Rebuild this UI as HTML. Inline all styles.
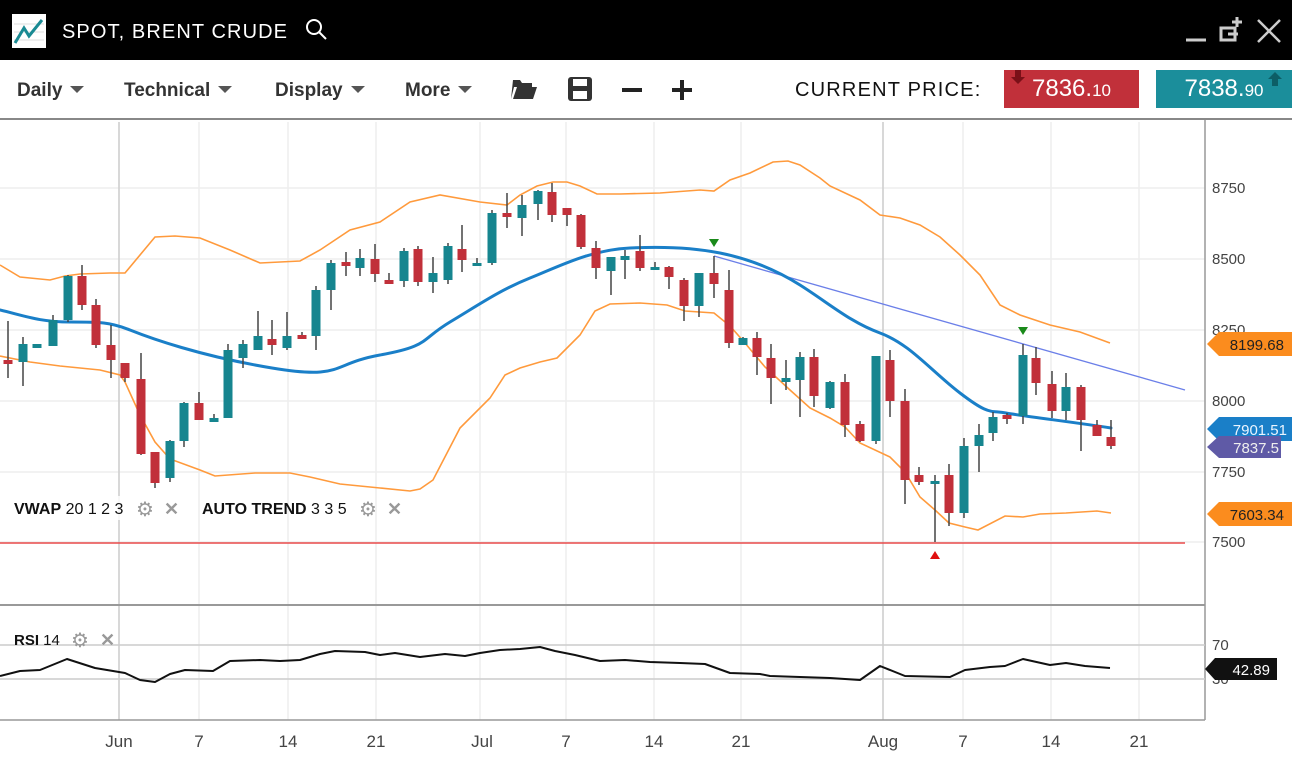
<!DOCTYPE html>
<html><head><meta charset="utf-8"><style>
body{margin:0;width:1292px;height:761px;overflow:hidden;background:#fff;font-family:"Liberation Sans",sans-serif;position:relative}
.hdr{position:absolute;left:0;top:0;width:1292px;height:60px;background:#000}
.tb{position:absolute;top:60px;left:0;width:1292px;height:60px;border-bottom:2px solid #888;box-sizing:border-box}
.mi{position:absolute;top:80px;font-size:19px;font-weight:bold;color:#333}
.car{display:inline-block;width:0;height:0;border-left:7px solid transparent;border-right:7px solid transparent;border-top:7px solid #555;margin-left:8px;vertical-align:3px}
.pb{position:absolute;top:70px;height:38px;color:#fff;font-size:24px;line-height:38px;text-align:center}
</style></head><body>
<div class="hdr">
<svg width="1292" height="60" style="position:absolute;left:0;top:0">
<rect x="12" y="14" width="34" height="34" fill="#fff"/>
<line x1="14" y1="24" x2="44" y2="24" stroke="#ddd"/><line x1="14" y1="32" x2="44" y2="32" stroke="#ddd"/><line x1="14" y1="40" x2="44" y2="40" stroke="#ddd"/>
<polyline points="15,43 24,28 29,36 42,20" fill="none" stroke="#1a8a93" stroke-width="3"/>
<text x="62" y="38" fill="#fff" font-size="20" letter-spacing="1" textLength="226" font-family="Liberation Sans">SPOT, BRENT CRUDE</text>
<circle cx="314" cy="27" r="7" fill="none" stroke="#fff" stroke-width="2"/><line x1="319" y1="32" x2="326" y2="39" stroke="#fff" stroke-width="2"/>
<line x1="1186" y1="40" x2="1206" y2="40" stroke="#ccc" stroke-width="3"/>
<rect x="1221" y="28" width="14" height="12" fill="none" stroke="#ccc" stroke-width="3"/>
<path d="M1232 22h10M1237 17v10M1228 34h10" stroke="#ccc" stroke-width="3"/>
<path d="M1258 20L1280 42M1280 20L1258 42" stroke="#ccc" stroke-width="2.5"/>
</svg></div>
<div class="tb"></div>
<div class="mi" style="left:17px">Daily<span class="car"></span></div>
<div class="mi" style="left:124px">Technical<span class="car"></span></div>
<div class="mi" style="left:275px">Display<span class="car"></span></div>
<div class="mi" style="left:405px">More<span class="car"></span></div>
<svg width="200" height="40" style="position:absolute;left:500px;top:70px">
<path d="M13 10h7l2 3h10v4h-18l-3 12h-0z M13 29l4-12h20l-4 12z" fill="#333"/>
<rect x="68" y="7" width="24" height="24" rx="3" fill="#333"/><rect x="73" y="9" width="14" height="7" fill="#fff"/><rect x="73" y="21" width="14" height="8" fill="#fff"/>
<rect x="122" y="18" width="20" height="4" fill="#222"/>
<rect x="172" y="18" width="20" height="4" fill="#222"/><rect x="180" y="10" width="4" height="20" fill="#222"/>
</svg>
<div style="position:absolute;left:795px;top:79px;font-size:20px;letter-spacing:1.2px;color:#111">CURRENT PRICE:</div>
<div class="pb" style="left:1004px;width:135px;background:#c1303a">7836.<span style="font-size:17px">10</span></div>
<div class="pb" style="left:1156px;width:136px;background:#1b8e9b">7838.<span style="font-size:17px">90</span></div>
<svg width="20" height="20" style="position:absolute;left:1009px;top:70px"><path d="M6 0h6v7h4l-7 7l-7-7h4z" fill="#7a1018"/></svg>
<svg width="20" height="20" style="position:absolute;left:1266px;top:70px"><path d="M6 16h6v-7h4l-7-7l-7 7h4z" fill="#0d5e66"/></svg>

<svg width="1292" height="641" viewBox="0 120 1292 641" style="position:absolute;left:0;top:120px" font-family="Liberation Sans">
<g stroke="#eee" stroke-width="1.5">
<line x1="0" y1="188" x2="1205" y2="188"/><line x1="0" y1="259" x2="1205" y2="259"/><line x1="0" y1="330" x2="1205" y2="330"/><line x1="0" y1="401" x2="1205" y2="401"/><line x1="0" y1="472" x2="1205" y2="472"/><line x1="0" y1="542" x2="1205" y2="542"/>
<line x1="199" y1="122" x2="199" y2="720"/><line x1="288" y1="122" x2="288" y2="720"/><line x1="376" y1="122" x2="376" y2="720"/><line x1="480" y1="122" x2="480" y2="720"/><line x1="566" y1="122" x2="566" y2="720"/><line x1="654" y1="122" x2="654" y2="720"/><line x1="741" y1="122" x2="741" y2="720"/><line x1="963" y1="122" x2="963" y2="720"/><line x1="1051" y1="122" x2="1051" y2="720"/><line x1="1139" y1="122" x2="1139" y2="720"/>
</g>
<g stroke="#ccc" stroke-width="1.5"><line x1="119" y1="122" x2="119" y2="720"/><line x1="883" y1="122" x2="883" y2="720"/></g>
<line x1="0" y1="605" x2="1205" y2="605" stroke="#999" stroke-width="2"/>
<line x1="0" y1="720" x2="1205" y2="720" stroke="#999" stroke-width="1.5"/>
<line x1="1205" y1="120" x2="1205" y2="720" stroke="#999" stroke-width="1.5"/>
<g stroke="#ccc" stroke-width="1.5"><line x1="0" y1="645" x2="1205" y2="645"/><line x1="0" y1="679" x2="1205" y2="679"/></g>

<line x1="0" y1="543" x2="1185" y2="543" stroke="#e84a4a" stroke-width="1.5"/>
<line x1="714" y1="256" x2="1185" y2="390" stroke="#6b7fe8" stroke-width="1.3"/>

<polyline fill="none" stroke="#ff9a3c" stroke-width="1.6" points="0,265 20,277 50,280 65,276 80,274 110,273 125,273 155,237 175,236 200,238 230,250 260,263 300,261 320,250 350,230 380,222 410,202 440,195 480,202 507,205 520,195 537,186 553,182 567,182 580,186 597,194 620,194 660,193 700,190 714,191 730,180 750,173 773,162 788,161 800,165 820,178 830,186 860,200 880,215 900,218 920,225 940,237 960,255 980,275 1000,305 1020,315 1050,325 1080,332 1110,343"/>
<polyline fill="none" stroke="#ff9a3c" stroke-width="1.6" points="0,356 30,362 60,366 100,370 120,375 125,382 140,415 155,442 170,459 200,470 215,476 255,473 290,473 310,477 340,484 380,488 410,491 420,489 433,480 460,428 490,398 505,375 520,368 540,362 557,358 580,335 595,311 610,304 640,303 667,305 685,311 714,313 730,326 745,343 765,367 790,390 810,408 830,418 845,427 860,443 890,457 905,472 920,497 935,510 949,523 965,527 978,530 1005,516 1023,517 1040,514 1066,513 1097,511 1111,513"/>
<path fill="none" stroke="#1a7fc8" stroke-width="3" stroke-linejoin="round" stroke-linecap="round" d="M0,310 C25,316 40,322 70,322 S110,322 130,330 S200,356 272,368 S330,364 380,355 S420,340 450,322 S500,290 530,278 S590,250 630,248 S700,249 720,253 S770,266 800,285 S850,322 880,333 S930,370 960,393 S990,410 1006,413 S1080,423 1111,428"/>

<g stroke="#444" stroke-width="1.5" id="w">
<line x1="8" y1="321" x2="8" y2="378"/><line x1="23" y1="337" x2="23" y2="386"/><line x1="53" y1="315" x2="53" y2="346"/><line x1="68" y1="275" x2="68" y2="322"/><line x1="82" y1="265" x2="82" y2="310"/><line x1="96" y1="299" x2="96" y2="348"/><line x1="111" y1="325" x2="111" y2="378"/><line x1="125" y1="363" x2="125" y2="382"/><line x1="141" y1="353" x2="141" y2="455"/><line x1="155" y1="452" x2="155" y2="488"/><line x1="170" y1="440" x2="170" y2="482"/><line x1="184" y1="402" x2="184" y2="447"/><line x1="199" y1="392" x2="199" y2="420"/><line x1="214" y1="414" x2="214" y2="422"/><line x1="228" y1="344" x2="228" y2="418"/><line x1="243" y1="340" x2="243" y2="368"/><line x1="258" y1="311" x2="258" y2="350"/><line x1="272" y1="320" x2="272" y2="355"/><line x1="287" y1="312" x2="287" y2="350"/><line x1="302" y1="332" x2="302" y2="339"/><line x1="316" y1="286" x2="316" y2="350"/><line x1="331" y1="260" x2="331" y2="310"/><line x1="346" y1="252" x2="346" y2="276"/><line x1="360" y1="249" x2="360" y2="276"/><line x1="375" y1="244" x2="375" y2="282"/><line x1="389" y1="273" x2="389" y2="284"/><line x1="404" y1="248" x2="404" y2="287"/><line x1="418" y1="246" x2="418" y2="286"/><line x1="433" y1="257" x2="433" y2="293"/><line x1="448" y1="243" x2="448" y2="284"/><line x1="462" y1="225" x2="462" y2="272"/><line x1="477" y1="258" x2="477" y2="266"/><line x1="492" y1="210" x2="492" y2="265"/><line x1="507" y1="193" x2="507" y2="228"/><line x1="522" y1="195" x2="522" y2="236"/><line x1="538" y1="190" x2="538" y2="220"/><line x1="552" y1="183" x2="552" y2="222"/><line x1="567" y1="208" x2="567" y2="226"/><line x1="581" y1="214" x2="581" y2="249"/><line x1="596" y1="241" x2="596" y2="279"/><line x1="611" y1="257" x2="611" y2="295"/><line x1="625" y1="250" x2="625" y2="279"/><line x1="640" y1="235" x2="640" y2="271"/><line x1="655" y1="262" x2="655" y2="270"/><line x1="669" y1="266" x2="669" y2="289"/><line x1="684" y1="278" x2="684" y2="321"/><line x1="699" y1="273" x2="699" y2="317"/><line x1="714" y1="256" x2="714" y2="298"/><line x1="729" y1="270" x2="729" y2="348"/><line x1="743" y1="337" x2="743" y2="345"/><line x1="757" y1="332" x2="757" y2="375"/><line x1="771" y1="344" x2="771" y2="404"/><line x1="786" y1="360" x2="786" y2="390"/><line x1="800" y1="352" x2="800" y2="417"/><line x1="814" y1="349" x2="814" y2="407"/><line x1="830" y1="381" x2="830" y2="409"/><line x1="845" y1="374" x2="845" y2="437"/><line x1="860" y1="421" x2="860" y2="442"/><line x1="876" y1="356" x2="876" y2="444"/><line x1="890" y1="350" x2="890" y2="417"/><line x1="905" y1="389" x2="905" y2="504"/><line x1="919" y1="467" x2="919" y2="485"/><line x1="935" y1="475" x2="935" y2="542"/><line x1="949" y1="464" x2="949" y2="526"/><line x1="964" y1="438" x2="964" y2="518"/><line x1="979" y1="424" x2="979" y2="472"/><line x1="993" y1="412" x2="993" y2="441"/><line x1="1007" y1="413" x2="1007" y2="424"/><line x1="1023" y1="344" x2="1023" y2="424"/><line x1="1036" y1="347" x2="1036" y2="395"/><line x1="1052" y1="371" x2="1052" y2="418"/><line x1="1066" y1="373" x2="1066" y2="420"/><line x1="1081" y1="385" x2="1081" y2="451"/><line x1="1097" y1="420" x2="1097" y2="436"/><line x1="1111" y1="420" x2="1111" y2="449"/>
</g>
<g fill="#c1303a">
<rect x="3.5" y="360" width="9" height="4"/><rect x="77.5" y="276" width="9" height="29"/><rect x="91.5" y="305" width="9" height="40"/><rect x="106.5" y="345" width="9" height="15"/><rect x="120.5" y="363" width="9" height="15"/><rect x="136.5" y="379" width="9" height="75"/><rect x="150.5" y="452" width="9" height="31"/><rect x="194.5" y="403" width="9" height="17"/><rect x="267.5" y="339" width="9" height="6"/><rect x="297.5" y="335" width="9" height="4"/><rect x="341.5" y="262" width="9" height="4"/><rect x="370.5" y="259" width="9" height="15"/><rect x="384.5" y="280" width="9" height="4"/><rect x="413.5" y="249" width="9" height="33"/><rect x="457.5" y="249" width="9" height="11"/><rect x="502.5" y="213" width="9" height="4"/><rect x="547.5" y="192" width="9" height="23"/><rect x="562.5" y="208" width="9" height="7"/><rect x="576.5" y="215" width="9" height="32"/><rect x="591.5" y="248" width="9" height="20"/><rect x="635.5" y="251" width="9" height="17"/><rect x="664.5" y="267" width="9" height="10"/><rect x="679.5" y="280" width="9" height="26"/><rect x="709.5" y="273" width="9" height="11"/><rect x="724.5" y="290" width="9" height="53"/><rect x="752.5" y="338" width="9" height="19"/><rect x="766.5" y="358" width="9" height="20"/><rect x="809.5" y="357" width="9" height="39"/><rect x="840.5" y="382" width="9" height="43"/><rect x="855.5" y="424" width="9" height="17"/><rect x="885.5" y="360" width="9" height="41"/><rect x="900.5" y="401" width="9" height="79"/><rect x="914.5" y="475" width="9" height="7"/><rect x="944.5" y="475" width="9" height="38"/><rect x="1002.5" y="415" width="9" height="4"/><rect x="1031.5" y="358" width="9" height="25"/><rect x="1047.5" y="384" width="9" height="27"/><rect x="1076.5" y="387" width="9" height="33"/><rect x="1092.5" y="425" width="9" height="11"/><rect x="1106.5" y="437" width="9" height="9"/>
</g>
<g fill="#16858f">
<rect x="18.5" y="344" width="9" height="18"/><rect x="32.5" y="344" width="9" height="4"/><rect x="48.5" y="320" width="9" height="26"/><rect x="63.5" y="276" width="9" height="44"/><rect x="165.5" y="441" width="9" height="37"/><rect x="179.5" y="403" width="9" height="38"/><rect x="209.5" y="418" width="9" height="4"/><rect x="223.5" y="350" width="9" height="68"/><rect x="238.5" y="344" width="9" height="14"/><rect x="253.5" y="336" width="9" height="14"/><rect x="282.5" y="336" width="9" height="12"/><rect x="311.5" y="290" width="9" height="46"/><rect x="326.5" y="263" width="9" height="27"/><rect x="355.5" y="258" width="9" height="10"/><rect x="399.5" y="251" width="9" height="30"/><rect x="428.5" y="273" width="9" height="9"/><rect x="443.5" y="246" width="9" height="34"/><rect x="472.5" y="263" width="9" height="3"/><rect x="487.5" y="213" width="9" height="50"/><rect x="517.5" y="205" width="9" height="13"/><rect x="533.5" y="191" width="9" height="13"/><rect x="606.5" y="257" width="9" height="14"/><rect x="620.5" y="256" width="9" height="4"/><rect x="650.5" y="267" width="9" height="3"/><rect x="694.5" y="273" width="9" height="33"/><rect x="738.5" y="338" width="9" height="7"/><rect x="781.5" y="378" width="9" height="4"/><rect x="795.5" y="357" width="9" height="23"/><rect x="825.5" y="382" width="9" height="26"/><rect x="871.5" y="356" width="9" height="85"/><rect x="930.5" y="481" width="9" height="3"/><rect x="959.5" y="446" width="9" height="67"/><rect x="974.5" y="435" width="9" height="11"/><rect x="988.5" y="417" width="9" height="16"/><rect x="1018.5" y="355" width="9" height="61"/><rect x="1061.5" y="387" width="9" height="24"/>
</g>
<path d="M709 239h10l-5 8z" fill="#1a8a1a"/><path d="M1018 327h10l-5 8z" fill="#1a8a1a"/><path d="M930 559h10l-5-8z" fill="#e01010"/>

<polyline fill="none" stroke="#111" stroke-width="2" stroke-linejoin="round" points="0,676 20,671 40,670 67,659 95,668 125,673 140,680 155,682 170,674 185,670 213,671 230,661 260,660 280,661 300,660 320,654 335,651 365,652 380,655 395,653 420,657 445,654 465,656 480,653 500,650 520,649 540,647 555,651 575,655 600,661 625,660 650,662 680,663 705,664 730,673 760,674 770,676 800,677 830,678 860,680 880,666 905,676 950,677 965,670 990,667 1005,666 1023,659 1050,665 1066,663 1085,666 1110,668"/>

<g fill="#444" font-size="15">
<text x="1212" y="193">8750</text><text x="1212" y="264">8500</text><text x="1212" y="335">8250</text><text x="1212" y="406">8000</text><text x="1212" y="477">7750</text><text x="1212" y="547">7500</text>
<text x="1212" y="650">70</text><text x="1212" y="684">30</text>
</g>
<path d="M1207 344l12-12h73v24h-73z" fill="#fb8c1e"/><text x="1284" y="350" text-anchor="end" font-size="15" fill="#222">8199.68</text>
<path d="M1207 429l12-12h73v24h-73z" fill="#1a7fc8"/><text x="1287" y="435" text-anchor="end" font-size="15" fill="#eaf4ff">7901.51</text>
<path d="M1207 447l12-11h62v22h-62z" fill="#5f5aa6"/><text x="1279" y="453" text-anchor="end" font-size="15" fill="#eee">7837.5</text>
<path d="M1207 514l12-12h73v24h-73z" fill="#fb8c1e"/><text x="1284" y="520" text-anchor="end" font-size="15" fill="#222">7603.34</text>
<path d="M1205 669l10-11h62v22h-62z" fill="#111"/><text x="1270" y="675" text-anchor="end" font-size="15" fill="#fff">42.89</text>

<g font-size="17" fill="#444" text-anchor="middle">
<text x="119" y="747">Jun</text><text x="199" y="747">7</text><text x="288" y="747">14</text><text x="376" y="747">21</text><text x="482" y="747">Jul</text><text x="566" y="747">7</text><text x="654" y="747">14</text><text x="741" y="747">21</text><text x="883" y="747">Aug</text><text x="963" y="747">7</text><text x="1051" y="747">14</text><text x="1139" y="747">21</text>
</g>

<rect x="8" y="496" width="180" height="24" fill="#fff" opacity="0.8"/>
<text x="14" y="514" font-size="16" fill="#111"><tspan font-weight="bold">VWAP</tspan> 20 1 2 3</text>
<text x="136" y="516" font-size="20" fill="#999">⚙</text><text x="164" y="515" font-size="18" fill="#999" font-weight="bold">✕</text>
<text x="202" y="514" font-size="16" fill="#111"><tspan font-weight="bold">AUTO TREND</tspan> 3 3 5</text>
<text x="359" y="516" font-size="20" fill="#999">⚙</text><text x="387" y="515" font-size="18" fill="#999" font-weight="bold">✕</text>
<text x="14" y="645" font-size="15" fill="#111"><tspan font-weight="bold">RSI</tspan> 14</text>
<text x="71" y="647" font-size="20" fill="#999">⚙</text><text x="100" y="646" font-size="18" fill="#999" font-weight="bold">✕</text>
</svg>
</body></html>
